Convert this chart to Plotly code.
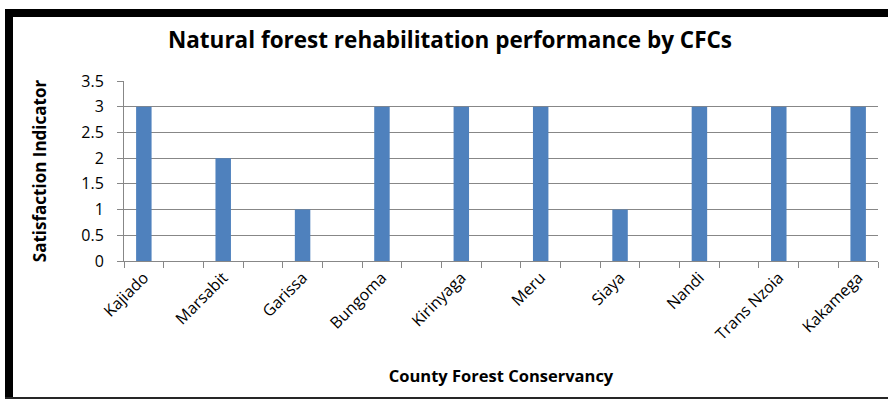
import plotly.graph_objects as go

# County Forest Conservancies and their satisfaction scores
counties = ["Kajiado", "Marsabit", "Garissa", "Bungoma", "Kirinyaga",
            "Meru", "Siaya", "Nandi", "Trans Nzoia", "Kakamega"]
satisfaction = [3, 2, 1, 3, 3, 3, 1, 3, 3, 3]
y_ticks = [0, 0.5, 1, 1.5, 2, 2.5, 3, 3.5]
y_tick_labels = ["0", "0.5", "1", "1.5", "2", "2.5", "3", "3.5"]

# each county sits in every other slot, leaving an empty slot between them
slots = [2 * i for i in range(len(counties))]
n_slots = 2 * len(counties) - 1

W, H = 888, 400
ML, MR, MT, MB = 124, 10, 81, 139
FONT = "Open Sans, sans-serif"
GRID = "#878787"

fig = go.Figure(
    go.Bar(
        x=slots,
        y=satisfaction,
        marker=dict(color="#4F81BD", line=dict(width=0)),
        width=0.39,
        hoverinfo="skip",
    )
)


def px_x(p):
    return (p - ML) / (W - ML - MR)


def px_y(p):
    return (H - MB - p) / (H - MT - MB)


# outer frame of the chart
frame = [
    dict(x0=5, x1=W + 5, y0=9, y1=17, color="black"),
    dict(x0=5, x1=13, y0=9, y1=399, color="black"),
    dict(x0=5, x1=W + 5, y0=397, y1=399, color="#262626"),
]
shapes = [
    dict(type="rect", xref="paper", yref="paper",
         x0=px_x(f["x0"]), x1=px_x(f["x1"]),
         y0=px_y(f["y1"]), y1=px_y(f["y0"]),
         fillcolor=f["color"], line=dict(width=0), layer="above")
    for f in frame
]

fig.update_layout(
    width=W,
    height=H,
    margin=dict(l=ML, r=MR, t=MT, b=MB, autoexpand=False),
    paper_bgcolor="white",
    plot_bgcolor="white",
    showlegend=False,
    font=dict(family=FONT, color="black"),
    title=dict(
        text="<b>Natural forest rehabilitation performance by CFCs</b>",
        font=dict(size=22.5, family=FONT, color="black"),
        x=450 / W, xanchor="center",
        y=1 - 40 / H, yanchor="middle", yref="container",
    ),
    shapes=shapes,
    xaxis=dict(
        range=[-0.5, n_slots - 0.5],
        tickmode="array",
        tickvals=slots,
        ticktext=counties,
        tickangle=-45,
        ticks="",
        tickfont=dict(size=16, family=FONT, color="black"),
        showline=True, linecolor=GRID, linewidth=1,
        showgrid=False, zeroline=False,
        minor=dict(tickmode="array",
                   tickvals=[k - 0.5 for k in range(n_slots + 1)],
                   ticks="outside", ticklen=6, tickwidth=1,
                   tickcolor=GRID, showgrid=False),
        title=dict(text="<b>County Forest Conservancy</b>",
                   font=dict(size=16.5, family=FONT, color="black"),
                   standoff=26),
        fixedrange=True,
    ),
    yaxis=dict(
        range=[0, 3.5],
        tickmode="array",
        tickvals=y_ticks,
        ticktext=y_tick_labels,
        ticks="outside", ticklen=6, tickwidth=1, tickcolor=GRID,
        ticklabelstandoff=10,
        tickfont=dict(size=16, family=FONT, color="black"),
        showline=True, linecolor=GRID, linewidth=1,
        showgrid=True, gridcolor=GRID, gridwidth=1,
        zeroline=False,
        title=dict(text="<b>Satisfaction Indicator</b>",
                   font=dict(size=17, family=FONT, color="black"),
                   standoff=30),
        fixedrange=True,
    ),
)

fig.write_html("out.html", config={"displayModeBar": False, "staticPlot": True})
